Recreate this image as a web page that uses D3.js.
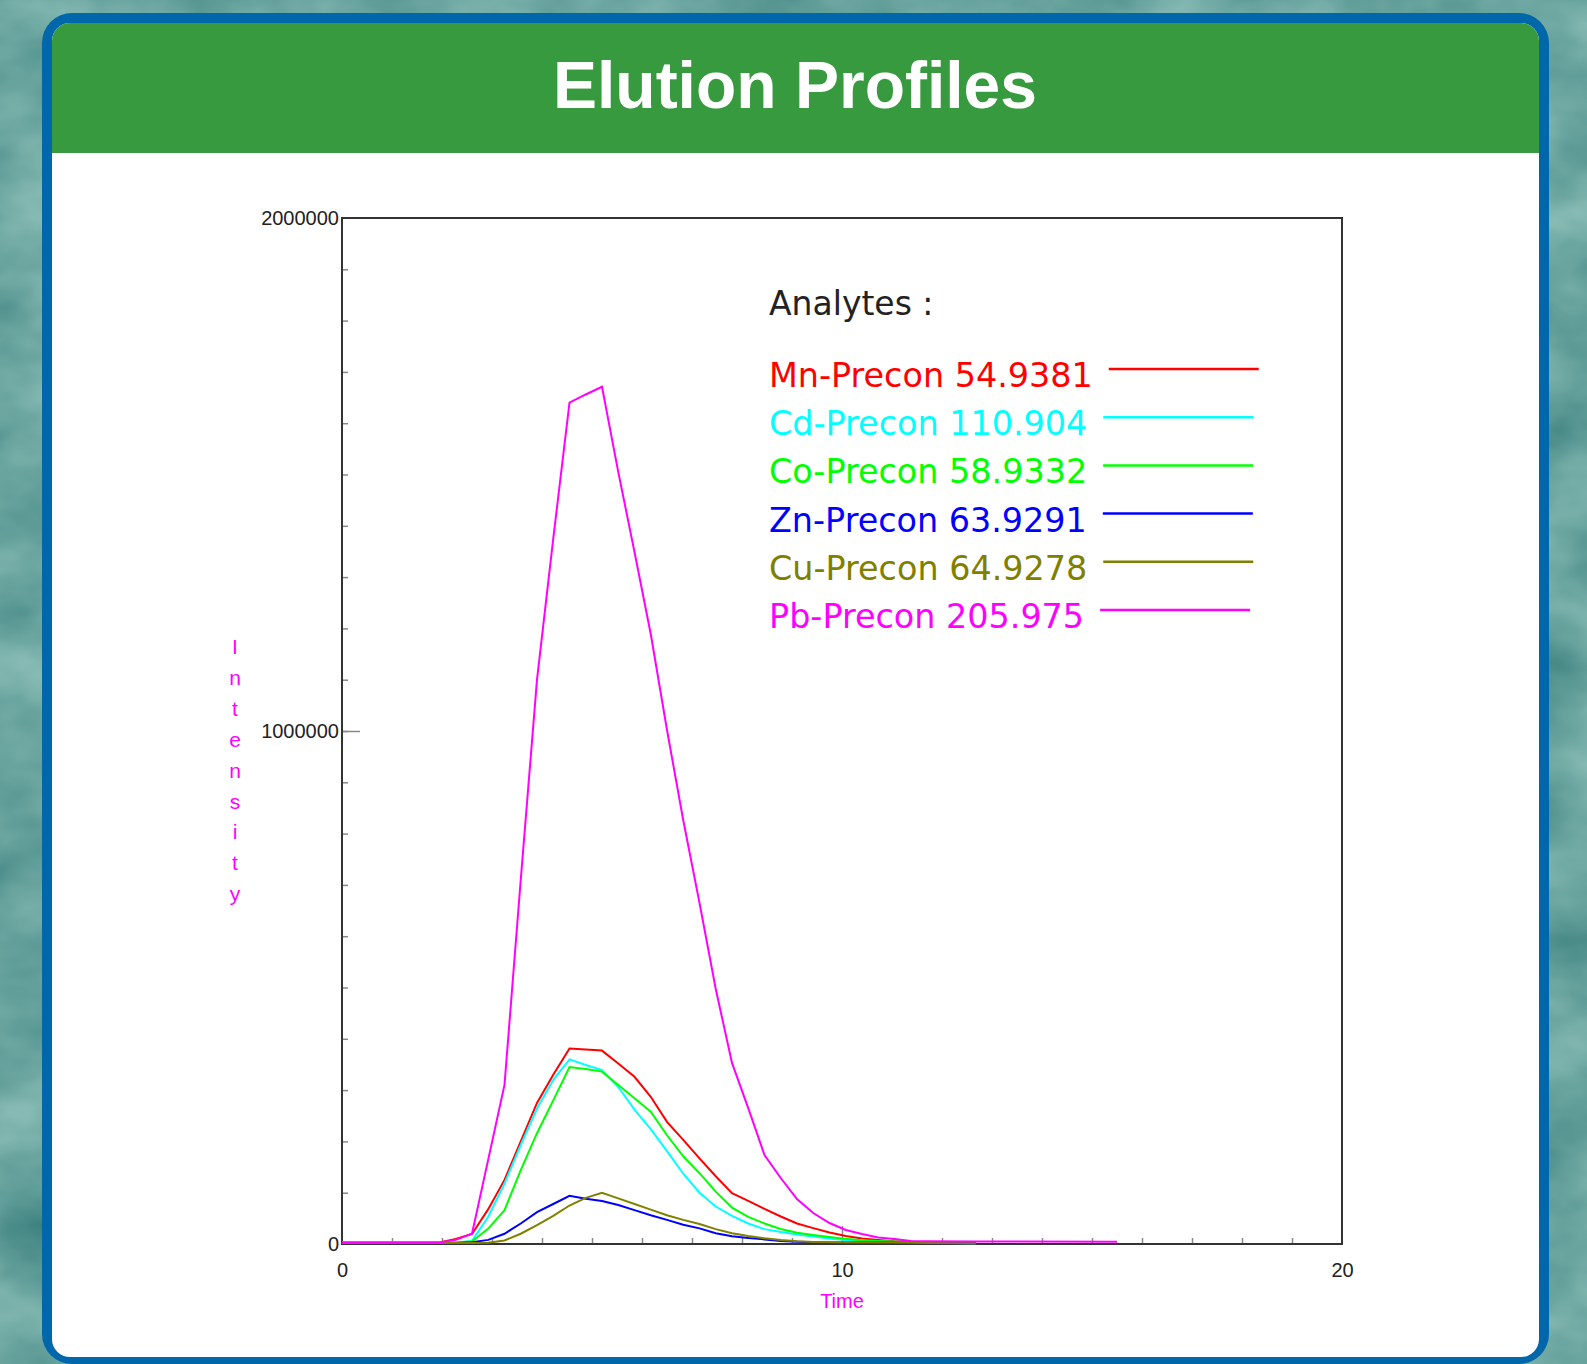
<!DOCTYPE html>
<html>
<head>
<meta charset="utf-8">
<script src="https://cdn.jsdelivr.net/npm/d3@7"></script>
<style>
    html, body { margin: 0; padding: 0; overflow: hidden; background: #6a9f9b; }
    svg { display: block; }
</style>
</head>
<body>
<svg id="chart" width="1587" height="1364"></svg>
<script>
// 測定時間 (min)
const time = [0, 1.95, 2.275, 2.6, 2.925, 3.25, 3.575, 3.9, 4.225, 4.55, 4.875, 5.2, 5.525, 5.85, 6.175, 6.5, 6.825,
    7.15, 7.475, 7.8, 8.125, 8.45, 8.775, 9.1, 9.425, 9.75, 10.075, 10.4, 10.725, 11.05, 11.375, 11.7, 12.675, 15.5];

// 各元素の強度
const mn = [3000, 3000, 10000, 19500, 68000, 125000, 200000, 275000, 330000, 381000, 379000, 377000, 352000, 326000, 287000, 238000, 203000,
    167000, 132000, 99000, 84000, 68500, 53600, 40000, 31000, 22600, 15700, 10800, 8000, 5400, 4500, 3000, 1500, null];
const cd = [3000, 3000, 3000, 6000, 53000, 118000, 193000, 264000, 320000, 360000, 349000, 339000, 306000, 262000, 224000, 181000, 137000,
    100000, 73000, 55000, 40000, 29000, 23500, 18500, 14500, 10500, 8000, 6000, 5000, 4000, 3500, 2500, 1500, null];
const co = [3000, 3000, 3000, 5000, 30000, 66000, 144000, 216000, 280000, 345000, 341000, 336000, 310000, 284000, 258000, 212000, 171000,
    138000, 102000, 71000, 53000, 40000, 29400, 22000, 17500, 13500, 10000, 7500, 6000, 5000, 4000, 2500, 1500, null];
const zn = [2000, 2000, 2000, 3500, 8000, 20000, 40000, 62000, 78000, 94000, 88000, 84000, 76000, 66000, 56000, 47000, 37500,
    30500, 21000, 15000, 11500, 9000, 6000, 4500, 3500, 3000, 3000, 3000, 3000, 3000, 2500, 2000, 1500, null];
const cu = [2000, 2000, 2000, 2000, 2500, 7000, 20000, 37000, 55000, 75000, 90000, 100000, 89000, 78000, 67000, 56000, 47000,
    39000, 29000, 21000, 15500, 11000, 7800, 5500, 4000, 3500, 3000, 3000, 3000, 3000, 2500, 2000, 1500, null];
const pb = [3000, 3000, 8000, 20000, 165000, 310000, 710000, 1100000, 1375000, 1640000, 1656000, 1671000, 1505000, 1349000, 1189000, 1002000, 826000,
    665000, 497000, 353000, 265000, 173500, 128600, 87700, 60400, 40900, 27300, 19500, 12700, 9700, 6000, 5500, 5000, 4500];

const seriesNames = ["Mn-Precon 54.9381", "Cd-Precon 110.904", "Co-Precon 58.9332", "Zn-Precon 63.9291", "Cu-Precon 64.9278", "Pb-Precon 205.975"];
const seriesColors = ["#ff0000", "#00ffff", "#00ff00", "#0000ff", "#808000", "#ff00ff"];

const yTickLabels = [0, 1000000, 2000000];
const xTickLabels = [0, 10, 20];

function main() {
    const svg = d3.select("#chart");
    const W = 1587, H = 1364;
    const defs = svg.append("defs");

    // 背景（マーブル模様）
    const marble = defs.append("filter").attr("id", "marble")
        .attr("x", 0).attr("y", 0).attr("width", "100%").attr("height", "100%")
        .attr("color-interpolation-filters", "sRGB");
    marble.append("feTurbulence")
        .attr("type", "fractalNoise")
        .attr("baseFrequency", "0.007 0.011")
        .attr("numOctaves", 4)
        .attr("seed", 7);
    marble.append("feColorMatrix")
        .attr("type", "matrix")
        .attr("values", "0.42 0 0 0 0.2  0.32 0 0 0 0.48  0.3 0 0 0 0.47  0 0 0 0 1");
    svg.append("rect").attr("width", W).attr("height", H).attr("filter", "url(#marble)");

    // カード
    svg.append("rect")
        .attr("x", 42).attr("y", 13)
        .attr("width", 1507).attr("height", 1351)
        .attr("rx", 30)
        .attr("fill", "#0067aa");
    defs.append("clipPath").attr("id", "inner").append("rect")
        .attr("x", 52).attr("y", 23)
        .attr("width", 1487).attr("height", 1334)
        .attr("rx", 18);
    const card = svg.append("g").attr("clip-path", "url(#inner)");
    card.append("rect")
        .attr("x", 52).attr("y", 23)
        .attr("width", 1487).attr("height", 1334)
        .attr("fill", "#ffffff");
    card.append("rect")
        .attr("x", 52).attr("y", 23)
        .attr("width", 1487).attr("height", 130)
        .attr("fill", "#389a3f");

    svg.append("text")
        .attr("x", 795)
        .attr("y", 108)
        .attr("text-anchor", "middle")
        .attr("font-family", "'Liberation Sans', Arial, sans-serif")
        .attr("font-weight", "bold")
        .attr("font-size", 66)
        .attr("fill", "#ffffff")
        .text("Elution Profiles");

    // スケール
    const x = d3.scaleLinear().domain([0, 20]).range([342, 1342]);
    const y = d3.scaleLinear().domain([0, 2000000]).range([1244, 218]);

    /** 目盛り線だけの軸を描画する
     *
     * @param {*} axis d3の軸
     * @param {string} transform 位置
     */
    function drawTicks(axis, transform) {
        const g = svg.append("g").attr("transform", transform).call(axis);
        g.select(".domain").remove();
        g.selectAll("line").attr("stroke", "#888888").attr("stroke-width", 1.5);
    }

    // y軸の目盛り
    drawTicks(d3.axisRight(y).tickValues(d3.range(100000, 2000000, 100000)).tickSize(6).tickFormat(""),
        `translate(${x(0)},0)`);
    drawTicks(d3.axisRight(y).tickValues([1000000]).tickSize(18).tickFormat(""),
        `translate(${x(0)},0)`);
    // x軸の目盛り
    drawTicks(d3.axisTop(x).tickValues(d3.range(1, 20, 1)).tickSize(6).tickFormat(""),
        `translate(0,${y(0)})`);
    drawTicks(d3.axisTop(x).tickValues([10]).tickSize(18).tickFormat(""),
        `translate(0,${y(0)})`);

    // 目盛りラベル
    const yLabels = svg.append("g")
        .attr("transform", `translate(${x(0)},0)`)
        .call(d3.axisLeft(y).tickValues(yTickLabels).tickSize(0).tickPadding(3).tickFormat(d3.format("d")));
    yLabels.select(".domain").remove();
    yLabels.selectAll("text")
        .attr("font-family", "'Liberation Sans', Arial, sans-serif")
        .attr("font-size", 20)
        .attr("fill", "#222222");

    const xLabels = svg.append("g")
        .attr("transform", `translate(0,${y(0)})`)
        .call(d3.axisBottom(x).tickValues(xTickLabels).tickSize(0).tickPadding(19).tickFormat(d3.format("d")));
    xLabels.select(".domain").remove();
    xLabels.selectAll("text")
        .attr("font-family", "'Liberation Sans', Arial, sans-serif")
        .attr("font-size", 20)
        .attr("fill", "#222222");

    // 枠
    svg.append("rect")
        .attr("x", x(0)).attr("y", y(2000000))
        .attr("width", x(20) - x(0)).attr("height", y(0) - y(2000000))
        .attr("fill", "none")
        .attr("stroke", "#333333")
        .attr("stroke-width", 2);

    // 軸タイトル
    svg.append("text")
        .attr("x", x(10))
        .attr("y", 1308)
        .attr("text-anchor", "middle")
        .attr("font-family", "'Liberation Sans', Arial, sans-serif")
        .attr("font-size", 20)
        .attr("fill", "#ff00ff")
        .text("Time");

    const letters = "Intensity".split("");
    svg.append("g").selectAll("text")
        .data(letters)
        .join("text")
        .attr("x", 235)
        .attr("y", (d, i) => 654 + i * 30.9)
        .attr("text-anchor", "middle")
        .attr("font-family", "'Liberation Sans', Arial, sans-serif")
        .attr("font-size", 21)
        .attr("fill", "#ff00ff")
        .text(d => d);

    // 系列
    const allSeries = [mn, cd, co, zn, cu, pb];
    const line = d3.line()
        .defined(d => d[1] != null)
        .x(d => x(d[0]))
        .y(d => y(d[1]));

    allSeries.forEach((values, k) => {
        const points = time.map((t, i) => [t, values[i]]);
        svg.append("path")
            .datum(points)
            .attr("d", line)
            .attr("fill", "none")
            .attr("stroke", seriesColors[k])
            .attr("stroke-width", 2);
    });

    // 凡例
    svg.append("text")
        .attr("x", 769)
        .attr("y", 315)
        .attr("font-family", "'DejaVu Sans', Verdana, sans-serif")
        .attr("font-size", 33)
        .attr("fill", "#222222")
        .text("Analytes :");

    seriesNames.forEach((name, k) => {
        const baseY = 387 + k * 48.2;
        const label = svg.append("text")
            .attr("x", 769)
            .attr("y", baseY)
            .attr("font-family", "'DejaVu Sans', Verdana, sans-serif")
            .attr("font-size", 33.4)
            .attr("fill", seriesColors[k])
            .text(name);
        const endX = 769 + label.node().getComputedTextLength();
        svg.append("line")
            .attr("x1", endX + 16)
            .attr("x2", endX + 166)
            .attr("y1", baseY - 18)
            .attr("y2", baseY - 18)
            .attr("stroke", seriesColors[k])
            .attr("stroke-width", 2.5);
    });
}

main();
</script>
</body>
</html>
